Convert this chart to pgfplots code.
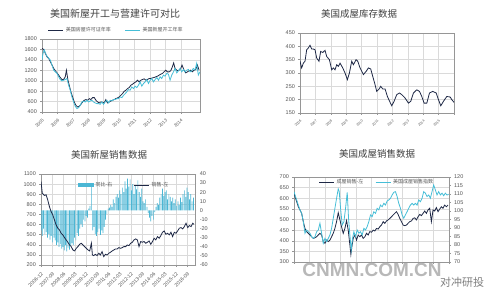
\documentclass[border=0pt]{standalone}
\usepackage{fontspec}
\setmainfont{Liberation Sans}
\newfontfamily\cjk{Noto Sans CJK SC}
\usepackage{pgfplots}
\pgfplotsset{compat=1.18}
\definecolor{dk}{RGB}{30,40,70}
\definecolor{cy}{RGB}{70,190,215}
\definecolor{barc}{RGB}{75,182,212}
\definecolor{gridc}{RGB}{218,218,218}
\definecolor{axc}{RGB}{150,150,150}
\definecolor{txt}{RGB}{85,85,85}
\pgfplotsset{
  base/.style={
    scale only axis, anchor=south west,
    axis line style={axc, line width=0.4pt},
    major grid style={gridc, line width=0.35pt},
    tick style={axc, line width=0.35pt},
    tick align=outside, major tick length=1.6pt,
    ticklabel style={font=\fontsize{5.5}{6}\selectfont, text=txt},
    /pgf/number format/assume math mode=true,
    /pgf/number format/1000 sep={},
  },
  leg/.style={
    legend style={draw=none, fill=none, font=\cjk\fontsize{5}{5}\selectfont, text=txt,
      inner sep=0.5pt, /tikz/every even column/.append style={column sep=12pt}},
    legend cell align=left,
    legend image code/.code={\draw[##1] (0pt,0pt) -- (15pt,0pt);},
  },
}
\begin{document}
\begin{tikzpicture}
\path[use as bounding box] (0,0) rectangle (500pt,298pt);

% ---------- Panel 1 ----------
\begin{axis}[base, leg, at={(42pt,186pt)}, width=158pt, height=73pt,
  xmin=0, xmax=123, ymin=400, ymax=1800, ytick={400,600,...,1800},
  xtick={0,12,...,108}, xticklabels={2005,2006,2007,2008,2009,2010,2011,2012,2013,2014},
  xtick pos=left, ytick pos=left, grid=major,
  xticklabel style={rotate=45, anchor=north east, font=\fontsize{4.5}{5}\selectfont},
  legend columns=2, legend style={at={(0.47,1)}, anchor=south, yshift=3pt}]
\addplot[dk, line width=0.8pt] coordinates {(0,1620)(1.3,1600)(2.6,1524)(3.9,1460)(5.2,1428)(6.5,1363)(7.8,1300)(9.1,1235)(10.4,1190)(11.7,1150)(13,1107)(14.2,1062)(15.5,1023)(16.8,1023)(18.1,1075)(19,1200)(20.2,1010)(21.2,914)(22.5,786)(23.8,689)(25.1,593)(26.4,529)(27.7,497)(29,510)(30.3,548)(31.6,593)(32.9,625)(34.2,638)(35.5,625)(36.8,657)(38,638)(39.4,676)(40.7,676)(42,625)(43.3,593)(44.5,574)(45.8,593)(47.1,587)(48.4,574)(49.7,638)(51,574)(52.3,593)(53.6,612)(54.9,625)(56.2,638)(57.5,657)(58.8,670)(60.1,689)(61.4,721)(62.7,753)(64,798)(65.3,818)(66.6,850)(67.9,869)(69.2,914)(70.5,933)(71.8,959)(73.1,978)(74.3,1010)(75.6,978)(77,1010)(78.2,1023)(79.5,1036)(80.8,1010)(82.1,1023)(83.4,1042)(84.7,1042)(86,1055)(87.3,1062)(88.6,1075)(89.9,1087)(91.2,1107)(92.5,1126)(93.8,1140)(95,1170)(96.3,1203)(97.6,1170)(98.9,1170)(100.2,1190)(101.5,1267)(102.5,1340)(103.6,1235)(105.4,1190)(106.7,1203)(108,1235)(109,1300)(110.6,1203)(111.9,1150)(113.2,1170)(114.5,1190)(115.8,1203)(117,1170)(118.4,1203)(119.7,1216)(121,1300)(122.3,1203)};
\addlegendentry{美国房屋许可证年率}
\addplot[cy, line width=0.8pt] coordinates {(0,1395)(0.8,1524)(1.8,1590)(3.4,1490)(5.2,1428)(6.5,1395)(7.8,1300)(9.1,1203)(10.4,1170)(11.7,1140)(13,1075)(14.2,1023)(15.5,997)(16.8,1010)(18.1,1023)(19.4,1042)(20.7,914)(22,818)(23.3,689)(24.6,593)(25.9,510)(27.2,465)(28.5,484)(29.8,529)(31.1,593)(32.4,606)(33.7,593)(35,625)(36.3,593)(37.6,612)(38.9,625)(40.1,593)(41.4,574)(42.7,561)(44,561)(45.3,548)(46.6,593)(47.9,548)(49.2,593)(50.5,625)(51.8,574)(53.1,625)(54.4,612)(55.7,638)(57,638)(58.3,657)(59.6,657)(60.9,689)(62.2,676)(63.5,721)(64.8,753)(66,786)(67.3,830)(68.6,818)(69.9,882)(71.2,850)(72.5,895)(73.8,869)(75.1,914)(76.4,978)(77.7,895)(79,946)(80.3,978)(81.6,1023)(82.9,946)(84.2,1010)(85.5,1042)(86.8,978)(88.1,1023)(89.4,1062)(90.7,1010)(91.9,1075)(93.2,1042)(94.5,1107)(95.8,1087)(97.1,1140)(98.4,1126)(99.7,1010)(101,1107)(102.3,1170)(103.6,1235)(104.9,1150)(106.2,1190)(107.5,1235)(108.8,1170)(110.1,1216)(111.4,1170)(112.7,1203)(114,1216)(115.3,1170)(116.6,1190)(117.8,1235)(119.1,1203)(120.4,1331)(121.7,1107)(123,1170)};
\addlegendentry{美国新屋开工年率}
\end{axis}

% ---------- Panel 2 ----------
\begin{axis}[base, at={(300pt,185pt)}, width=154pt, height=80pt,
  xmin=0, xmax=120, ymin=150, ymax=450, ytick={150,200,...,450},
  xtick={0,12,...,120}, xticklabels={2006,2007,2008,2009,2010,2011,2012,2013,2014,2015,{}},
  xtick pos=left, ytick pos=left, grid=major,
  xticklabel style={rotate=45, anchor=north east, font=\fontsize{3.5}{4}\selectfont}]
\addplot[dk, line width=0.8pt] coordinates {(0,344)(1.3,319)(2.6,337)(3.9,344)(5.2,387)(6.5,394)(7.8,404)(9.1,390)(10.4,390)(11.7,387)(13,356)(14.8,344)(16.1,381)(17.7,377)(19.5,385)(20.8,362)(22.9,350)(24.7,312)(26,319)(27.3,312)(28.6,331)(29.9,325)(31.2,337)(33.3,319)(35.1,300)(36.9,275)(38.5,300)(40.3,344)(41.6,331)(43.7,350)(45,344)(46.8,319)(49.4,294)(51.5,306)(53.3,319)(55.1,315)(56.7,287)(58.5,256)(59.8,231)(61.6,240)(62.9,250)(64.5,240)(66.3,240)(68.1,212)(70.2,190)(71.5,177)(73.3,194)(75.4,219)(77.5,225)(79.3,219)(81.9,206)(84.5,187)(86.3,194)(88.4,225)(91,237)(93.1,231)(94.9,212)(96.7,187)(98.8,187)(100.9,225)(103.5,231)(106.1,225)(107.9,200)(109.7,177)(111.8,194)(114.4,212)(117,210)(118.3,200)(120,190)};
\end{axis}

% ---------- Panel 3 ----------
\begin{axis}[base, at={(41pt,33pt)}, width=153.7pt, height=91pt,
  xmin=0, xmax=119, ymin=200, ymax=1100, ytick={200,300,...,1100},
  xtick={0,8.7,17.4,26.1,34.8,43.5,52.2,60.9,69.6,78.3,87,95.7,104.4,113.1},
  xticklabels={2006-12,2007-09,2008-06,2009-03,2009-12,2010-09,2011-06,2012-03,2012-12,2013-09,2014-06,2015-03,2015-12,2016-09},
  xtick pos=left, ytick pos=left, grid=major,
  xticklabel style={rotate=45, anchor=north east, font=\fontsize{5}{5}\selectfont}]
\addplot[draw=none] coordinates {(0,200)};
\end{axis}
\begin{axis}[base, at={(41pt,33pt)}, width=153.7pt, height=91pt,
  xmin=0, xmax=119, ymin=-60, ymax=40, ytick={-60,-50,...,40},
  axis y line*=right, axis x line=none, ytick pos=right,
  leg, legend style={at={(0.234,0.88)}, anchor=west}]
\addplot[ybar, bar width=0.55, fill=barc, draw=none,
  legend image code/.code={\fill[barc] (0pt,-1.8pt) rectangle (16pt,1.8pt);}] coordinates {
(0,-22)(1,-28)(2,-20)(3,-26)(4,-24)(5,-30)(6,-26)(7,-32)(8,-28)(9,-35)(10,-30)(11,-33)(12,-38)(13,-35)(14,-40)(15,-37)(16,-42)(17,-40)(18,-44)(19,-38)(20,-45)(21,-41)(22,-43)(23,-39)(24,-36)(25,-38)(26,-30)(27,-33)(28,-25)(29,-28)(30,-20)(31,-15)(32,-18)(33,-10)(34,-12)(35,-6)(36,-8)(37,2)(38,5)(39,30)(40,-22)(41,-18)(42,-26)(43,-28)(44,-24)(45,-20)(46,-27)(47,-22)(48,-25)(49,-18)(50,-10)(51,-4)(52,2)(53,3)(54,6)(55,4)(56,12)(57,8)(58,15)(59,18)(60,14)(61,22)(62,18)(63,25)(64,20)(65,32)(66,24)(67,35)(68,26)(69,34)(70,22)(71,29)(72,18)(73,27)(74,23)(75,33)(76,20)(77,15)(78,24)(79,10)(80,8)(81,12)(82,4)(83,-3)(84,-8)(85,-12)(86,-6)(87,-10)(88,-2)(89,4)(90,8)(91,6)(92,14)(93,18)(94,24)(95,16)(96,20)(97,22)(98,12)(99,18)(100,15)(101,10)(102,14)(103,8)(104,12)(105,5)(106,10)(107,6)(108,14)(109,9)(110,18)(111,22)(112,15)(113,25)(114,20)(115,12)(116,18)(117,10)(118,14)};
\addlegendentry{同比-右}
\end{axis}
\begin{axis}[scale only axis, anchor=south west, at={(41pt,33pt)}, width=153.7pt, height=91pt,
  xmin=0, xmax=119, ymin=200, ymax=1100, hide axis,
  leg, legend style={at={(0.6,0.88)}, anchor=west}]
\addplot[dk, line width=0.8pt] coordinates {(0,1027)(1,911)(2.6,888)(3.9,895)(5.2,845)(6.5,779)(7.8,729)(9.1,696)(10.4,647)(11.7,597)(13,564)(14.3,547)(15.6,514)(16.9,498)(18.2,471)(19.5,448)(20.8,425)(22.1,398)(23.4,382)(24.7,349)(26,339)(27.3,365)(28.6,382)(29.9,405)(31.2,415)(32.5,398)(33.8,382)(35.1,365)(36.4,349)(37.7,339)(39,415)(39.8,299)(40.8,293)(42.1,306)(43.4,293)(44.7,316)(46,299)(47.3,332)(48.6,283)(49.9,306)(51.2,299)(52.5,316)(53.8,326)(55.1,339)(56.4,349)(57.7,359)(59,359)(60.3,372)(61.6,365)(62.9,372)(64.2,382)(65.5,382)(66.8,398)(68.1,392)(69.4,415)(70.7,425)(72,448)(73.3,458)(74.6,448)(75.9,382)(77.2,432)(78.5,425)(79.8,432)(81.1,415)(82.4,425)(83.7,438)(85,405)(86.3,432)(87.6,465)(88.9,448)(90.2,481)(91.5,465)(92.8,491)(94.1,524)(95.4,537)(96.7,504)(98,514)(99.3,498)(100.6,524)(101.9,481)(103.2,524)(104.5,514)(105.8,537)(107.1,564)(108.4,570)(109.7,557)(111,580)(112.3,613)(113.6,570)(114.9,590)(116.2,580)(117.5,613)(118.3,603)};
\addlegendentry{销售-左}
\end{axis}

% ---------- Panel 4 ----------
\begin{axis}[base, at={(294pt,36pt)}, width=155pt, height=85pt,
  xmin=12, xmax=478, ymin=300, ymax=700, ytick={300,350,...,700},
  xtick={12,58.6,105.2,151.8,198.4,245,291.6,338.2,384.8,431.4,478}, xticklabels={},
  xtick pos=left, ytick pos=left, grid=major,
  leg, legend style={at={(0.155,0.94)}, anchor=west}]
\addplot[dk, line width=0.8pt] coordinates {(12,623)(15,607)(20,584)(25,560)(30,545)(35,529)(40,490)(45,458)(50,443)(55,435)(60,427)(65,419)(70,411)(75,414)(80,419)(85,427)(90,435)(95,427)(100,396)(105,388)(110,403)(115,396)(120,403)(125,419)(130,435)(135,458)(140,490)(145,532)(150,498)(155,466)(160,435)(165,458)(170,495)(175,450)(180,380)(183,336)(186,372)(190,411)(195,427)(200,403)(205,427)(210,419)(215,427)(220,411)(225,419)(230,435)(235,427)(240,443)(245,440)(250,450)(255,446)(260,458)(265,455)(270,466)(275,474)(280,490)(285,482)(290,493)(295,498)(300,505)(305,513)(310,521)(315,529)(320,537)(325,524)(330,505)(335,490)(340,474)(345,471)(350,474)(355,482)(360,490)(365,493)(370,505)(375,508)(380,498)(385,513)(390,524)(395,518)(400,529)(405,540)(410,529)(415,545)(420,553)(425,490)(430,545)(435,540)(440,556)(445,537)(450,549)(455,560)(460,553)(465,568)(470,560)(475,568)};
\addlegendentry{成屋销售-左}
\end{axis}
\begin{axis}[base, at={(294pt,36pt)}, width=155pt, height=85pt,
  xmin=12, xmax=478, ymin=70, ymax=120, ytick={70,75,...,120},
  axis y line*=right, axis x line=none, ytick pos=right,
  leg, legend style={at={(0.52,0.94)}, anchor=west}]
\addplot[cy, line width=0.8pt] coordinates {(12,111.4)(15,109.4)(20,106.5)(25,103.5)(30,100.6)(35,98.6)(40,93.7)(45,86.9)(50,88.8)(55,87.8)(60,86.9)(65,84.9)(70,83.9)(75,84.9)(80,87.8)(85,88.8)(90,92.8)(95,86.9)(100,81)(105,83.9)(110,82)(115,83.9)(120,85.9)(125,89.8)(130,95.7)(135,101.6)(140,107.5)(145,113)(148,111.4)(152,101.6)(157,91.8)(162,93.7)(167,101.6)(172,111)(176,95.7)(180,85.9)(184,77)(188,83.9)(192,87.8)(197,84.9)(202,88.8)(207,86.9)(212,87.8)(217,85.9)(222,89.8)(227,88.8)(232,90.8)(237,93.7)(242,97.7)(247,96.7)(252,99.6)(257,98.6)(262,101.6)(267,100.6)(272,103.5)(277,102.5)(282,104.5)(287,103.5)(292,105.9)(297,106.5)(302,107.5)(307,109.4)(312,111)(317,111.4)(322,108.5)(327,104.5)(332,101.6)(337,97.7)(342,95.7)(347,97.7)(352,99.6)(357,101.6)(362,103.5)(367,104.5)(372,103.5)(377,104.5)(382,103.5)(387,106.5)(392,105.5)(397,107.5)(402,111.4)(407,110.5)(412,108.5)(417,109.4)(422,107.5)(427,111.4)(432,115.3)(437,112.4)(442,109.4)(447,111.4)(452,109.4)(457,110.5)(462,109)(467,110.5)(472,109.4)(477,109.8)};
\addlegendentry{美国成屋销售指数}
\end{axis}

% ---------- Titles ----------
\node[font=\cjk\fontsize{10}{10}\selectfont, text=black!75] at (115pt,284pt) {美国新屋开工与营建许可对比};
\node[font=\cjk\fontsize{9.5}{10}\selectfont, text=black!75] at (359pt,284pt) {美国成屋库存数据};
\node[font=\cjk\fontsize{9.5}{10}\selectfont, text=black!75] at (109pt,143pt) {美国新屋销售数据};
\node[font=\cjk\fontsize{9.5}{10}\selectfont, text=black!75] at (377pt,144pt) {美国成屋销售数据};

% ---------- Watermark ----------
\node[font=\fontsize{19}{19}\selectfont\bfseries, text=black!28] at (372pt,28pt) {CNMN.COM.CN};
\node[font=\cjk\fontsize{11}{11}\selectfont, text=black!50] at (462pt,16pt) {对冲研投};
\end{tikzpicture}
\end{document}
